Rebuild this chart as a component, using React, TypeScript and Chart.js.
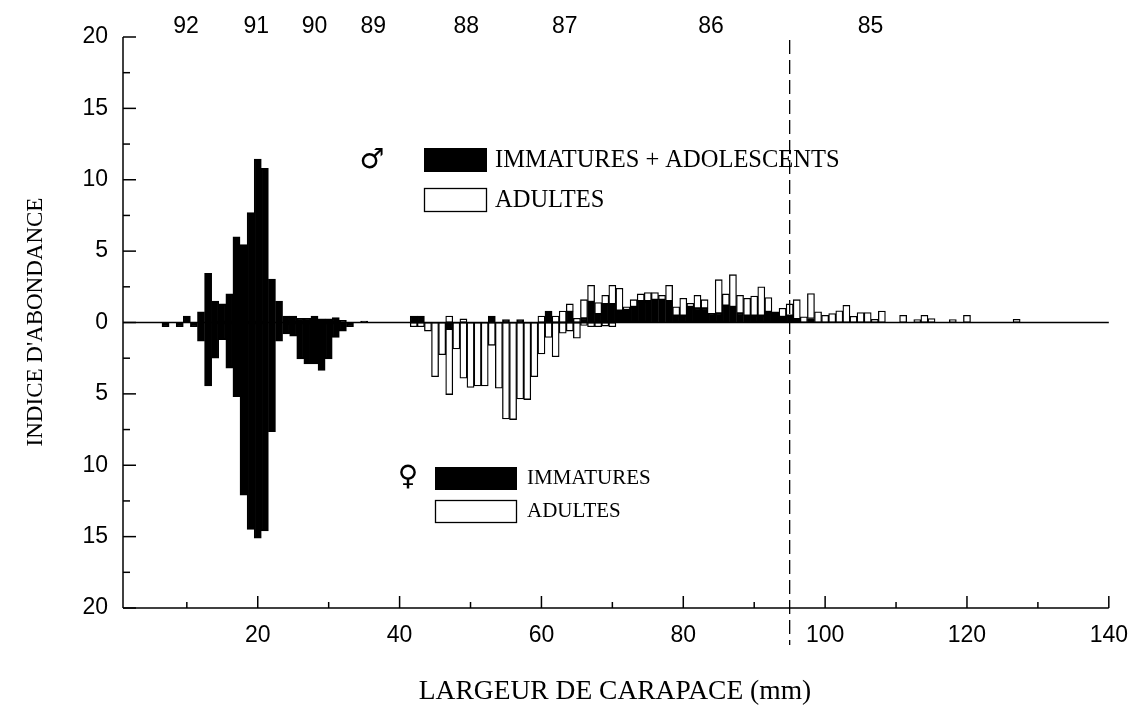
import React, { useEffect, useRef } from "react";
import { Chart, registerables } from "chart.js";

Chart.register(...registerables);

// ---- data: [carapace width (mm), abundance index] ----
const maleImmatures: [number, number][] = [
  [10, 0.45], [12, 0.75], [13, 3.45], [14, 1.5], [15, 1.3], [16, 2.0], [17, 6.0], [18, 5.45],
  [19, 7.7], [20, 11.45], [21, 10.8], [22, 3.05], [23, 1.5], [24, 0.45], [25, 0.45], [26, 0.3],
  [27, 0.3], [28, 0.45], [29, 0.25], [30, 0.25], [31, 0.35], [32, 0.15], [35, 0.1], [42, 0.45],
  [43, 0.45], [53, 0.45], [55, 0.2], [57, 0.2], [61, 0.8], [64, 0.75], [66, 0.3], [67, 1.45],
  [68, 0.6], [69, 1.3], [70, 1.3], [71, 0.85], [72, 0.9], [73, 1.1], [74, 1.5], [75, 1.5],
  [76, 1.6], [77, 1.6], [78, 1.5], [79, 0.5], [80, 0.5], [81, 1.1], [82, 1.0], [83, 1.0],
  [84, 0.65], [85, 0.65], [86, 1.2], [87, 1.1], [88, 0.65], [89, 0.5], [90, 0.5], [91, 0.5],
  [92, 0.75], [93, 0.75], [94, 0.4], [95, 0.5], [96, 0.25], [98, 0.28],
];

const maleAdults: [number, number][] = [
  [47, 0.45], [49, 0.25], [60, 0.45], [62, 0.45], [63, 0.8], [64, 0.55], [65, 0.3], [66, 1.3],
  [67, 1.15], [68, 0.8], [69, 0.6], [70, 1.3], [71, 1.55], [72, 0.2], [73, 0.5], [74, 0.5],
  [75, 0.6], [76, 0.5], [77, 0.3], [78, 1.1], [79, 0.6], [80, 1.2], [81, 0.25], [82, 0.9],
  [83, 0.6], [85, 2.35], [86, 0.8], [87, 2.25], [88, 1.25], [89, 1.2], [90, 1.35], [91, 2.0],
  [92, 1.0], [94, 0.6], [95, 0.8], [96, 1.35], [97, 0.4], [98, 1.75], [99, 0.75], [100, 0.5],
  [101, 0.63], [102, 0.82], [103, 1.2], [104, 0.44], [105, 0.7], [106, 0.7], [107, 0.23],
  [108, 0.8], [111, 0.5], [113, 0.2], [114, 0.5], [115, 0.28], [118, 0.2], [120, 0.5], [127, 0.23],
];

const femaleImmatures: [number, number][] = [
  [7, 0.3], [9, 0.3], [11, 0.3], [12, 1.3], [13, 4.45], [14, 2.5], [15, 1.2], [16, 3.2],
  [17, 5.2], [18, 12.1], [19, 14.5], [20, 15.1], [21, 14.6], [22, 7.65], [23, 1.3], [24, 0.8],
  [25, 0.95], [26, 2.55], [27, 2.9], [28, 2.9], [29, 3.35], [30, 2.55], [31, 1.05], [32, 0.6],
  [33, 0.3], [47, 0.45],
];

const femaleAdults: [number, number][] = [
  [42, 0.3], [43, 0.3], [44, 0.6], [45, 3.8], [46, 2.25], [47, 4.6], [48, 1.85], [49, 3.9],
  [50, 4.55], [51, 4.45], [52, 4.45], [53, 1.6], [54, 4.6], [55, 6.75], [56, 6.8], [57, 5.35],
  [58, 5.4], [59, 3.8], [60, 2.2], [61, 1.05], [62, 2.4], [63, 0.75], [64, 0.6], [65, 1.1],
  [66, 0.2], [67, 0.3], [68, 0.3], [69, 0.25], [70, 0.3],
];

const xTickValues = [20, 40, 60, 80, 100, 120, 140];
const xMinorTicks = [10, 30, 50, 70, 90, 110, 130];
const yTickValues = [-20, -15, -10, -5, 0, 5, 10, 15, 20];
const yMinorTicks = [-17.5, -12.5, -7.5, -2.5, 2.5, 7.5, 12.5, 17.5];
const yearLabels = ["92", "91", "90", "89", "88", "87", "86", "85"];
const yearPositions = [9.9, 19.8, 28, 36.3, 49.4, 63.3, 83.9, 106.4];
const cutoffWidth = 95;

const SANS = "'Liberation Sans', Arial, sans-serif";
const SERIF = "'Liberation Serif', 'Times New Roman', serif";

const decorPlugin = {
  id: "decor",
  afterDatasetsDraw(chart: any) {
    const { ctx, chartArea: a, scales } = chart;
    const x = scales.x;
    const y = scales.y;
    const line = (x1: number, y1: number, x2: number, y2: number) => {
      ctx.beginPath();
      ctx.moveTo(x1, y1);
      ctx.lineTo(x2, y2);
      ctx.stroke();
    };
    ctx.save();
    ctx.strokeStyle = "#000";
    ctx.lineWidth = 1.5;
    // axes
    line(a.left, a.top, a.left, a.bottom);
    line(a.left, a.bottom, a.right, a.bottom);
    // zero line
    const y0 = y.getPixelForValue(0);
    line(a.left, y0, a.right, y0);
    // y ticks (inward)
    yTickValues.forEach((v) => {
      const py = y.getPixelForValue(v);
      line(a.left, py, a.left + 13, py);
    });
    yMinorTicks.forEach((v) => {
      const py = y.getPixelForValue(v);
      line(a.left, py, a.left + 7, py);
    });
    // x ticks (inward)
    xTickValues.forEach((v) => {
      const px = x.getPixelForValue(v);
      line(px, a.bottom, px, a.bottom - 12);
    });
    xMinorTicks.forEach((v) => {
      const px = x.getPixelForValue(v);
      line(px, a.bottom, px, a.bottom - 6);
    });
    // dashed cutoff line
    ctx.setLineDash([14, 6]);
    ctx.lineWidth = 1.3;
    const pc = x.getPixelForValue(cutoffWidth);
    line(pc, a.top + 3, pc, a.bottom + 37);
    ctx.setLineDash([]);

    // year labels on top
    ctx.fillStyle = "#000";
    ctx.font = `23px ${SANS}`;
    ctx.textAlign = "center";
    ctx.textBaseline = "middle";
    yearLabels.forEach((lab, i) => {
      ctx.fillText(lab, x.getPixelForValue(yearPositions[i]), 27);
    });

    // legend (male)
    ctx.font = `28px 'DejaVu Sans', sans-serif`;
    ctx.fillText("\u2642", 372, 161);
    ctx.fillStyle = "#000";
    ctx.fillRect(424, 148, 63, 24);
    ctx.fillStyle = "#fff";
    ctx.fillRect(424, 188, 63, 24);
    ctx.strokeRect(424.5, 188.5, 62, 23);
    ctx.fillStyle = "#000";
    ctx.textAlign = "left";
    ctx.font = `24.5px ${SERIF}`;
    ctx.fillText("IMMATURES + ADOLESCENTS", 495, 161);
    ctx.fillText("ADULTES", 495, 201);

    // legend (female)
    ctx.textAlign = "center";
    ctx.font = `28px 'DejaVu Sans', sans-serif`;
    ctx.fillText("\u2640", 408, 478);
    ctx.fillRect(435, 467, 82, 23);
    ctx.fillStyle = "#fff";
    ctx.fillRect(435, 500, 82, 23);
    ctx.strokeRect(435.5, 500.5, 81, 22);
    ctx.fillStyle = "#000";
    ctx.textAlign = "left";
    ctx.font = `21px ${SERIF}`;
    ctx.fillText("IMMATURES", 527, 478);
    ctx.fillText("ADULTES", 527, 511);

    // axis titles
    ctx.textAlign = "center";
    ctx.font = `23px ${SERIF}`;
    ctx.save();
    ctx.translate(36, 322);
    ctx.rotate(-Math.PI / 2);
    ctx.fillText("INDICE D'ABONDANCE", 0, 0);
    ctx.restore();
    ctx.font = `27.5px ${SERIF}`;
    ctx.fillText("LARGEUR DE CARAPACE (mm)", 615, 692);
    ctx.restore();
  },
};

export default function App() {
  const ref = useRef<HTMLCanvasElement>(null);
  useEffect(() => {
    const canvas = ref.current;
    if (!canvas) return;
    const toPoints = (arr: [number, number][], sign: number) =>
      arr.map(([x, v]) => ({ x, y: sign * v }));
    const common = {
      borderColor: "#000",
      borderWidth: 1.3,
      borderSkipped: false,
      barPercentage: 1,
      categoryPercentage: 1,
      stack: "all",
    };
    const chart = new Chart(canvas, {
      type: "bar",
      data: {
        datasets: [
          { ...common, label: "Mâles immatures + adolescents", data: toPoints(maleImmatures, 1), backgroundColor: "#000" },
          { ...common, label: "Mâles adultes", data: toPoints(maleAdults, 1), backgroundColor: "#fff" },
          { ...common, label: "Femelles immatures", data: toPoints(femaleImmatures, -1), backgroundColor: "#000" },
          { ...common, label: "Femelles adultes", data: toPoints(femaleAdults, -1), backgroundColor: "#fff" },
        ] as any,
      },
      options: {
        responsive: false,
        animation: false,
        layout: { padding: { left: 0, right: 32, top: 37, bottom: 0 } },
        plugins: { legend: { display: false }, tooltip: { enabled: false } },
        scales: {
          x: {
            type: "linear",
            min: 1,
            max: 140,
            offset: false,
            stacked: true,
            grid: { display: false, drawTicks: false, offset: false },
            border: { display: false },
            afterBuildTicks: (s: any) => {
              s.ticks = xTickValues.map((v) => ({ value: v }));
            },
            afterFit: (s: any) => {
              s.height = 105;
            },
            ticks: {
              padding: 14,
              color: "#000",
              font: { family: SANS, size: 23 },
              maxRotation: 0,
              autoSkip: false,
              callback: (v: any) => String(v),
            },
          },
          y: {
            type: "linear",
            min: -20,
            max: 20,
            stacked: true,
            grid: { display: false, drawTicks: false },
            border: { display: false },
            afterBuildTicks: (s: any) => {
              s.ticks = yTickValues.map((v) => ({ value: v }));
            },
            afterFit: (s: any) => {
              s.width = 123;
            },
            ticks: {
              padding: 15,
              color: "#000",
              font: { family: SANS, size: 23 },
              autoSkip: false,
              callback: (v: any) => String(Math.abs(Number(v))),
            },
          },
        },
      } as any,
      plugins: [decorPlugin],
    });
    return () => chart.destroy();
  }, []);
  return (
    <div style={{ position: "fixed", left: 0, top: 0, width: 1142, height: 713, background: "#fff" }}>
      <canvas ref={ref} width={1142} height={713} style={{ display: "block" }} />
    </div>
  );
}
